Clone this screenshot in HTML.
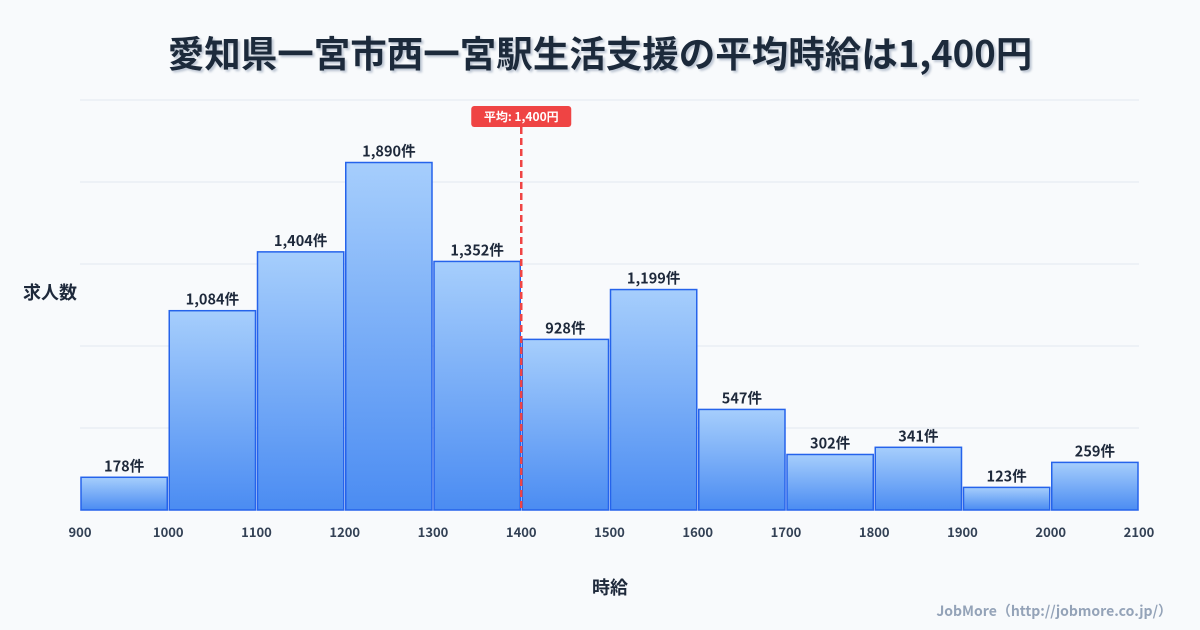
<!DOCTYPE html>
<html><head><meta charset="utf-8">
<style>
body{margin:0;background:#f8fafc;font-family:"Noto Sans CJK JP","Liberation Sans",sans-serif;}
#c{position:relative;width:1200px;height:630px;overflow:hidden;background:#f8fafc;}
svg text{font-family:"Noto Sans CJK JP","Liberation Sans",sans-serif;}
</style></head>
<body>
<div id="c">
<svg id="s" width="1200" height="630">
<defs>
<linearGradient id="g" x1="0" y1="0" x2="0" y2="1">
<stop offset="0" stop-color="#a6cefc"/><stop offset="1" stop-color="#4b8cf2"/>
</linearGradient>
<filter id="sh"><feDropShadow dx="2" dy="2" stdDeviation="1" flood-color="#94a3b8" flood-opacity="0.6"/></filter>
</defs>
<text x="600" y="67" text-anchor="middle" font-size="36.5" font-weight="bold" fill="#1e293b" filter="url(#sh)">愛知県一宮市西一宮駅生活支援の平均時給は1,400円</text>
<g id="grid"></g><g id="bars"></g><g id="xt"></g><g id="avg"></g>
<text x="50" y="299" text-anchor="middle" font-size="18" font-weight="bold" fill="#1e293b">求人数</text>
<text x="610" y="594" text-anchor="middle" font-size="18" font-weight="bold" fill="#1e293b">時給</text>
<text x="1172" y="616" text-anchor="end" font-size="14" font-weight="bold" fill="#94a3b8">JobMore（http://jobmore.co.jp/）</text>
</svg>
</div>
<script>
const binStarts=[900,1000,1100,1200,1300,1400,1500,1600,1700,1800,1900,2000];
const counts=[178,1084,1404,1890,1352,928,1199,547,302,341,123,259];
const countLabels=["178件","1,084件","1,404件","1,890件","1,352件","928件","1,199件","547件","302件","341件","123件","259件"];
const xTicks=[900,1000,1100,1200,1300,1400,1500,1600,1700,1800,1900,2000,2100];
const avgValue=1400;
const avgLabel="平均: 1,400円";
const NS="http://www.w3.org/2000/svg";
const X0=80,X1=1139,Y0=510,YT=100,xMin=900,xMax=2100,yMax=2230;
const xs=v=>X0+(v-xMin)/(xMax-xMin)*(X1-X0);
const ys=v=>Y0-v/yMax*(Y0-YT);
function mk(t,a,p){const e=document.createElementNS(NS,t);for(const k in a)e.setAttribute(k,a[k]);p.appendChild(e);return e;}
const grid=document.getElementById('grid');
for(let i=0;i<=5;i++){const y=Y0-i*(Y0-YT)/5;const l=mk('line',{x1:X0,x2:X1,y1:y,y2:y,stroke:i==0?'#cbd5e1':'#e2e8f0','stroke-width':1},grid);

}
const bars=document.getElementById('bars');
binStarts.forEach((b,i)=>{const x=xs(b)+1,w=xs(b+100)-xs(b)-2,y=ys(counts[i]);
const r=mk('rect',{x:x,y:y,width:w,height:Y0-y,fill:'url(#g)',stroke:'#2563eb','stroke-width':1.5},bars);


const t=mk('text',{x:x+w/2,y:y-6,'text-anchor':'middle','font-size':14.5,'font-weight':'bold',fill:'#1e293b'},bars);
t.textContent=countLabels[i];

});
const xt=document.getElementById('xt');
xTicks.forEach(v=>{const t=mk('text',{x:xs(v),y:537,'text-anchor':'middle','font-size':13,'font-weight':'bold',fill:'#334155'},xt);
t.textContent=v;

});
const ag=document.getElementById('avg');const ax=xs(avgValue);
const al=mk('line',{x1:ax,x2:ax,y1:127,y2:Y0,stroke:'#ef4444','stroke-width':2.5,'stroke-dasharray':'7,4'},ag);


const ab=mk('rect',{x:ax-50,y:106,width:100,height:21,rx:3,fill:'#ef4444'},ag);


const at=mk('text',{x:ax,y:121,'text-anchor':'middle','font-size':12,'font-weight':'bold',fill:'#fff'},ag);
at.textContent=avgLabel;


</script>
</body></html>
